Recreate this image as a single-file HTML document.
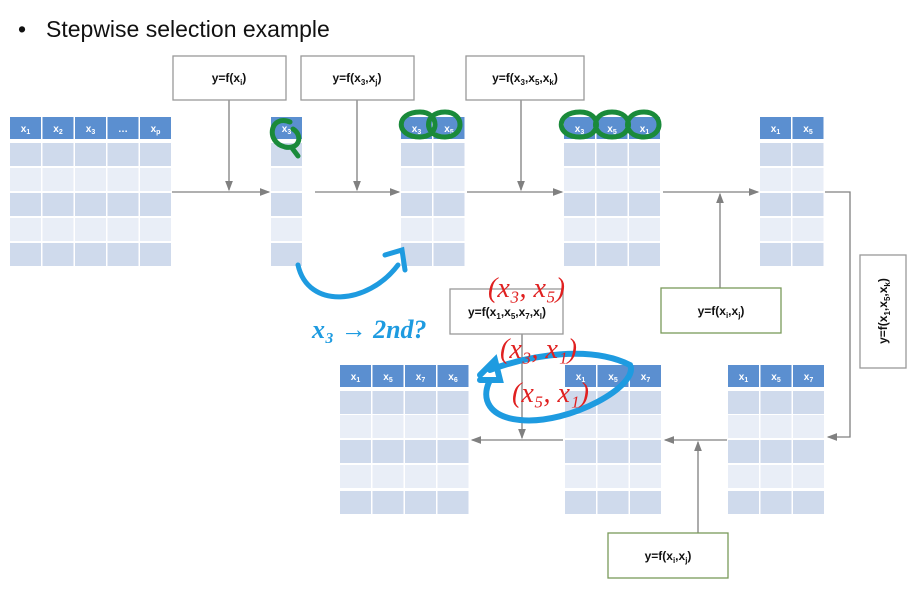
<!DOCTYPE html>
<html><head><meta charset="utf-8"><style>
body{margin:0;width:917px;height:589px;background:#fff;overflow:hidden;position:relative;font-family:"Liberation Sans",sans-serif}
.t{position:absolute;font-size:23px;color:#111}
svg{position:absolute;left:0;top:0}
</style></head><body>
<div class="t" style="left:18px;top:16px">•</div>
<div class="t" style="left:46px;top:16px">Stepwise selection example</div>
<svg width="917" height="589" viewBox="0 0 917 589" font-family="Liberation Sans, sans-serif">
<defs><marker id="a" markerWidth="8" markerHeight="8" refX="7" refY="4" orient="auto"><path d="M0,1 L8,4 L0,7z" fill="#808080"/></marker></defs>
<g id="tables"></g>
<g stroke="#808080" stroke-width="1.3" fill="none" marker-end="url(#a)">
<path d="M172,192H269"/><path d="M315,192H399"/><path d="M467,192H562"/><path d="M663,192H758"/>
<path d="M229,100V190"/><path d="M357,100V190"/><path d="M521,100V190"/><path d="M720,288V194"/>
<path d="M825,192H850V437H828"/>
<path d="M727,440H665"/><path d="M563,440H472"/><path d="M698,533V442"/><path d="M522,334V438"/>
</g>
<g fill="#fff" stroke-width="1.3">
<rect x="173" y="56" width="113" height="44" stroke="#999"/>
<rect x="301" y="56" width="113" height="44" stroke="#999"/>
<rect x="466" y="56" width="118" height="44" stroke="#999"/>
<rect x="661" y="288" width="120" height="45" stroke="#7a9a5a"/>
<rect x="860" y="255" width="46" height="113" stroke="#999"/>
<rect x="608" y="533" width="120" height="45" stroke="#7a9a5a"/>
<rect x="450" y="289" width="113" height="45" stroke="#999" fill="none"/>
</g>
<g font-weight="bold" font-size="12" fill="#111" text-anchor="middle">
<text x="229" y="82">y=f(x<tspan font-size="8" dy="3">i</tspan><tspan dy="-3">)</tspan></text>
<text x="357" y="82">y=f(x<tspan font-size="8" dy="3">3</tspan><tspan dy="-3">,x</tspan><tspan font-size="8" dy="3">j</tspan><tspan dy="-3">)</tspan></text>
<text x="525" y="82">y=f(x<tspan font-size="8" dy="3">3</tspan><tspan dy="-3">,x</tspan><tspan font-size="8" dy="3">5</tspan><tspan dy="-3">,x</tspan><tspan font-size="8" dy="3">k</tspan><tspan dy="-3">)</tspan></text>
<text x="721" y="315">y=f(x<tspan font-size="8" dy="3">i</tspan><tspan dy="-3">,x</tspan><tspan font-size="8" dy="3">j</tspan><tspan dy="-3">)</tspan></text>
<text x="668" y="560">y=f(x<tspan font-size="8" dy="3">i</tspan><tspan dy="-3">,x</tspan><tspan font-size="8" dy="3">j</tspan><tspan dy="-3">)</tspan></text>
<text x="507" y="316">y=f(x<tspan font-size="8" dy="3">1</tspan><tspan dy="-3">,x</tspan><tspan font-size="8" dy="3">5</tspan><tspan dy="-3">,x</tspan><tspan font-size="8" dy="3">7</tspan><tspan dy="-3">,x</tspan><tspan font-size="8" dy="3">l</tspan><tspan dy="-3">)</tspan></text>
<text transform="translate(887,311) rotate(-90)">y=f(x<tspan font-size="8" dy="3">1</tspan><tspan dy="-3">,x</tspan><tspan font-size="8" dy="3">5</tspan><tspan dy="-3">,x</tspan><tspan font-size="8" dy="3">k</tspan><tspan dy="-3">)</tspan></text>
</g>
<g fill="none" stroke-width="5" stroke-linecap="round">
<path stroke="#1a8a3a" d="M290,122c-20,-8 -25,20 -5,25c15,3 18,-12 8,-18M292,148l6,8"/>
<path stroke="#1a8a3a" d="M420,112c-25,0 -25,25 0,25c20,0 20,-25 0,-25M445,112c-22,0 -22,25 0,25c20,0 20,-25 0,-25"/>
<path stroke="#1a8a3a" d="M580,112c-25,0 -25,25 0,25c22,0 22,-25 0,-25M612,112c-22,0 -22,25 0,25c22,0 22,-25 0,-25M644,112c-22,0 -22,25 0,25c20,0 20,-25 0,-25"/>
<path stroke="#1e9be0" d="M298,265c10,45 70,40 100,0M385,255l17,-5l3,20"/>
<path stroke="#1e9be0" stroke-width="6" d="M480,375l15,-15l5,20l-20,0M490,370c40,-15 100,-25 140,-5c10,20 -60,60 -110,55c-30,-3 -40,-20 -30,-40"/>
</g>
<text x="312" y="338" fill="#1e9be0" font-size="26" font-style="italic" font-family="Liberation Serif, serif" font-weight="bold">x₃ → 2nd?</text>
<g fill="#e02020" font-family="Liberation Serif, serif" font-style="italic" font-size="28">
<text x="488" y="297">(x₃, x₅)</text>
<text x="500" y="358">(x₃, x₁)</text>
<text x="512" y="402">(x₅, x₁)</text>
</g>
</svg>
<script>
const g=document.getElementById('tables');
function tbl(x0,y0,cols,heads,rows){
 let s='';
 heads.forEach((h,i)=>{
  const x=x0+i*32.5;
  s+=`<rect x="${x}" y="${y0}" width="31" height="22" fill="#5b8fd0"/>`;
  s+=`<text x="${x+15.5}" y="${y0+15}" fill="#fff" font-size="10" font-weight="bold" text-anchor="middle">${h[0]}<tspan font-size="7" dy="2">${h.slice(1)}</tspan></text>`;
  rows.forEach((ry,j)=>{s+=`<rect x="${x}" y="${ry}" width="31" height="23" fill="${j%2?'#e9eef7':'#cfdaec'}"/>`});
 });
 return s;
}
const tr=[143,168,193,218,243], br=[391,415,440,465,491];
let h='';
h+=tbl(10,117,5,['x1','x2','x3','…','xp'],tr);
h+=tbl(271,117,1,['x3'],tr);
h+=tbl(401,117,2,['x3','x5'],tr);
h+=tbl(564,117,3,['x3','x5','x1'],tr);
h+=tbl(760,117,2,['x1','x5'],tr);
h+=tbl(340,365,4,['x1','x5','x7','x6'],br);
h+=tbl(565,365,3,['x1','x5','x7'],br);
h+=tbl(728,365,3,['x1','x5','x7'],br);
g.innerHTML=h;
</script>
</body></html>
